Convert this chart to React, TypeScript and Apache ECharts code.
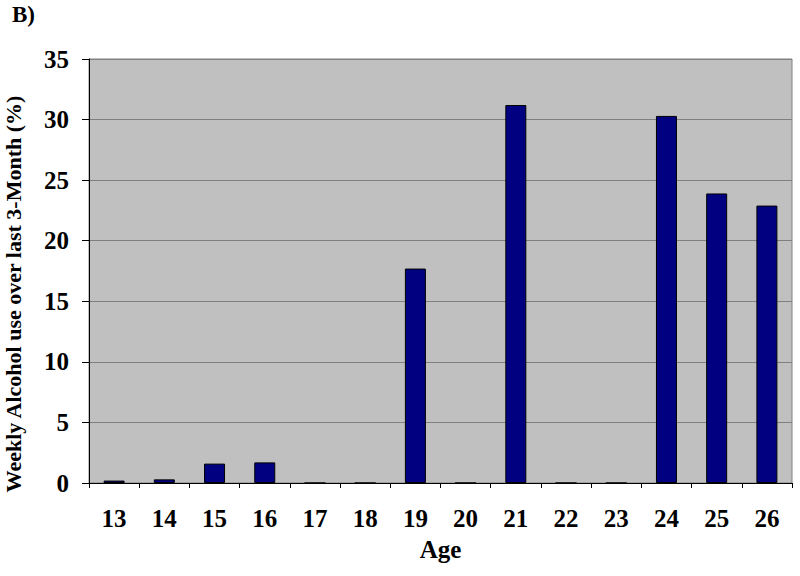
import React, { useEffect, useRef } from "react";
import * as echarts from "echarts";

const ages = ["13", "14", "15", "16", "17", "18", "19", "20", "21", "22", "23", "24", "25", "26"];
const weeklyAlcohol = [0.2, 0.3, 1.6, 1.7, 0, 0, 17.7, 0, 31.2, 0, 0, 30.3, 23.9, 22.9];
const yTicks = { min: 0, max: 35, interval: 5 };

const FONT = "'Liberation Serif', 'Times New Roman', serif";

export default function App() {
  const ref = useRef<HTMLDivElement>(null);
  useEffect(() => {
    if (!ref.current) return;
    const chart = echarts.init(ref.current, null, { renderer: "svg" });
    chart.setOption({
      animation: false,
      backgroundColor: "#ffffff",
      grid: {
        left: 89,
        right: 8,
        top: 59,
        bottom: 93,
        show: true,
        backgroundColor: "#c0c0c0",
        borderColor: "#808080",
        borderWidth: 1,
      },
      graphic: [
        {
          type: "text",
          left: 12,
          top: 3,
          style: { text: "B)", font: `bold 23px ${FONT}`, fill: "#000" },
        },
        {
          type: "text",
          x: 13,
          y: 294,
          rotation: Math.PI / 2,
          style: {
            text: "Weekly Alcohol use over last 3-Month (%)",
            font: `bold 22px ${FONT}`,
            fill: "#000",
            align: "center",
            verticalAlign: "middle",
          },
        },
      ],
      xAxis: {
        type: "category",
        data: ages,
        name: "Age",
        nameLocation: "middle",
        nameGap: 54,
        nameTextStyle: { fontFamily: FONT, fontWeight: "bold", fontSize: 25, color: "#000" },
        axisLine: { show: true, lineStyle: { color: "#000", width: 1 } },
        axisTick: { show: true, alignWithLabel: false, length: 5, lineStyle: { color: "#000" } },
        axisLabel: { fontFamily: FONT, fontWeight: "bold", fontSize: 25, color: "#000", margin: 23 },
        splitLine: { show: false },
      },
      yAxis: {
        type: "value",
        min: yTicks.min,
        max: yTicks.max,
        interval: yTicks.interval,
        axisLine: { show: true, lineStyle: { color: "#000", width: 1 } },
        axisTick: { show: true, length: 7, lineStyle: { color: "#000" } },
        axisLabel: { fontFamily: FONT, fontWeight: "bold", fontSize: 25, color: "#000", margin: 20 },
        splitLine: { show: true, lineStyle: { color: "#808080", width: 1 } },
      },
      series: [
        {
          type: "bar",
          data: weeklyAlcohol,
          barWidth: 21,
          itemStyle: { color: "#000080", borderColor: "#000000", borderWidth: 1 },
        },
      ],
    });
    return () => chart.dispose();
  }, []);
  return <div ref={ref} style={{ width: 800, height: 576, position: "absolute", left: 0, top: 0 }} />;
}
